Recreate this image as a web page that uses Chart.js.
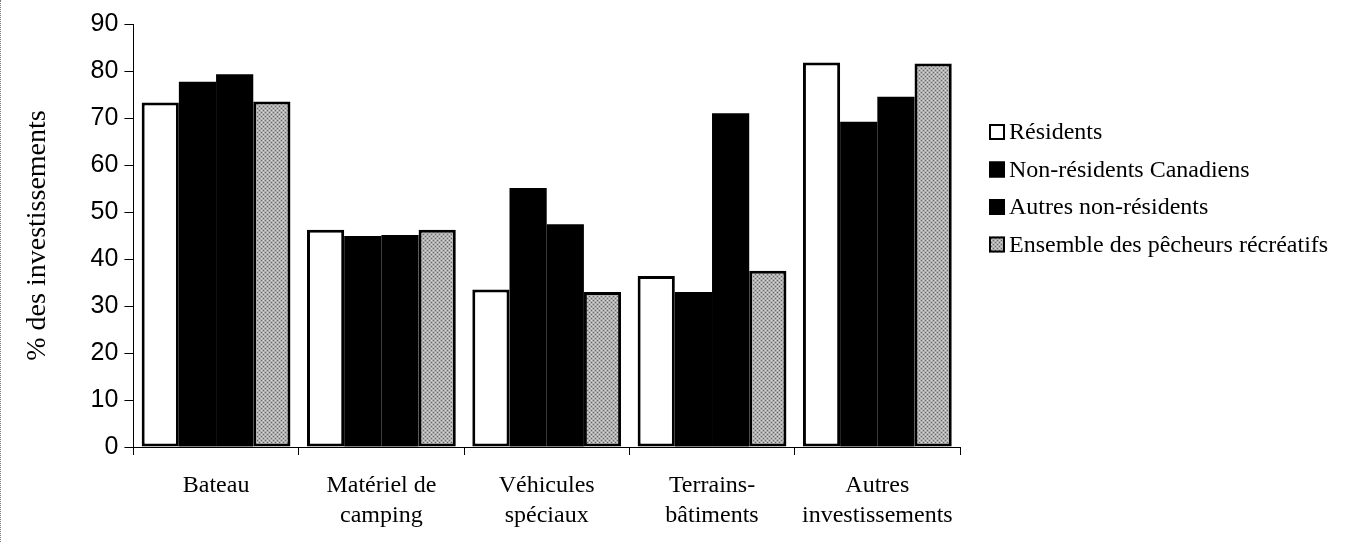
<!DOCTYPE html>
<html>
<head>
<meta charset="utf-8">
<script src="https://cdn.jsdelivr.net/npm/chart.js@4/dist/chart.umd.min.js"></script>
<style>
  html, body { margin: 0; padding: 0; background: #fff; }
  #wrap { width: 1353px; height: 542px; position: relative; border-left: 1px dotted #777; box-sizing: border-box; overflow: hidden; }
</style>
</head>
<body>
<div id="wrap"><canvas id="chart" width="1352" height="542"></canvas></div>
<script>
// data
const categories = [['Bateau'], ['Matériel de', 'camping'], ['Véhicules', 'spéciaux'], ['Terrains-', 'bâtiments'], ['Autres', 'investissements']];
const seriesNames = ['Résidents', 'Non-résidents Canadiens', 'Autres non-résidents', 'Ensemble des pêcheurs récréatifs'];
const residents = [73.3, 46.2, 33.5, 36.4, 81.8];
const nonResCanadiens = [77.7, 44.9, 55.1, 33, 69.2];
const autresNonRes = [79.3, 45.1, 47.4, 71, 74.5];
const ensemble = [73.5, 46.2, 33, 37.5, 81.6];
const yTicks = [0, 10, 20, 30, 40, 50, 60, 70, 80, 90];

const serif = '"Liberation Serif", "Times New Roman", serif';

// speckled grey fill like the printed pattern
function greyPattern() {
    const c = document.createElement('canvas');
    c.width = 4; c.height = 4;
    const g = c.getContext('2d');
    g.fillStyle = '#b0b0b0';
    g.fillRect(0, 0, 4, 4);
    g.fillStyle = '#666';
    g.fillRect(0, 0, 1, 1);
    g.fillRect(2, 2, 1, 1);
    g.fillStyle = '#d8d8d8';
    g.fillRect(2, 0, 1, 1);
    g.fillRect(0, 2, 1, 1);
    return g.createPattern(c, 'repeat');
}

// legend drawn at a fixed spot to the right of the plot
const sideLegend = {
    id: 'sideLegend',
    afterDraw(chart) {
        const c = chart.ctx;
        c.save();
        c.font = '24px ' + serif;
        c.textBaseline = 'middle';
        chart.data.datasets.forEach((ds, i) => {
            const y = 132 + i * 37.5;
            c.fillStyle = ds.backgroundColor;
            c.fillRect(988, y - 8, 16, 16);
            c.strokeStyle = '#000';
            c.lineWidth = 2;
            c.strokeRect(989, y - 7, 14, 14);
            c.fillStyle = '#000';
            c.fillText(ds.label, 1008, y + 1);
        });
        c.restore();
    }
};

const ctx = document.getElementById('chart');
const grey = greyPattern();

new Chart(ctx, {
    type: 'bar',
    data: {
        labels: categories,
        datasets: [
            { label: seriesNames[0], data: residents, backgroundColor: '#fff', borderColor: '#000', borderWidth: 3, borderSkipped: false },
            { label: seriesNames[1], data: nonResCanadiens, backgroundColor: '#000', borderColor: '#000', borderWidth: 0 },
            { label: seriesNames[2], data: autresNonRes, backgroundColor: '#000', borderColor: '#000', borderWidth: 0 },
            { label: seriesNames[3], data: ensemble, backgroundColor: grey, borderColor: '#000', borderWidth: 3, borderSkipped: false }
        ]
    },
    plugins: [sideLegend],
    options: {
        responsive: false,
        animation: false,
        layout: { padding: { top: 24, right: 393, left: 20, bottom: -5 } },
        datasets: { bar: { categoryPercentage: 0.9, barPercentage: 1.0 } },
        plugins: {
            tooltip: { enabled: false },
            legend: { display: false }
        },
        scales: {
            x: {
                grid: { drawOnChartArea: false, color: '#000', tickLength: 8, offset: true },
                border: { color: '#000', width: 1 },
                ticks: {
                    color: '#000',
                    padding: 16,
                    font: { family: serif, size: 24, lineHeight: 1.25 },
                    maxRotation: 0
                }
            },
            y: {
                min: 0,
                max: 90,
                afterBuildTicks: function(axis) { axis.ticks = yTicks.map(v => ({ value: v })); },
                grid: { drawOnChartArea: false, color: '#000', tickLength: 9 },
                border: { color: '#000', width: 1 },
                ticks: {
                    color: '#000',
                    padding: 6,
                    font: { family: '"Liberation Sans", Arial, sans-serif', size: 25 }
                },
                title: {
                    display: true,
                    text: '% des investissements',
                    color: '#000',
                    padding: { top: 0, bottom: 30 },
                    font: { family: serif, size: 28 }
                }
            }
        }
    }
});
</script>
</body>
</html>
